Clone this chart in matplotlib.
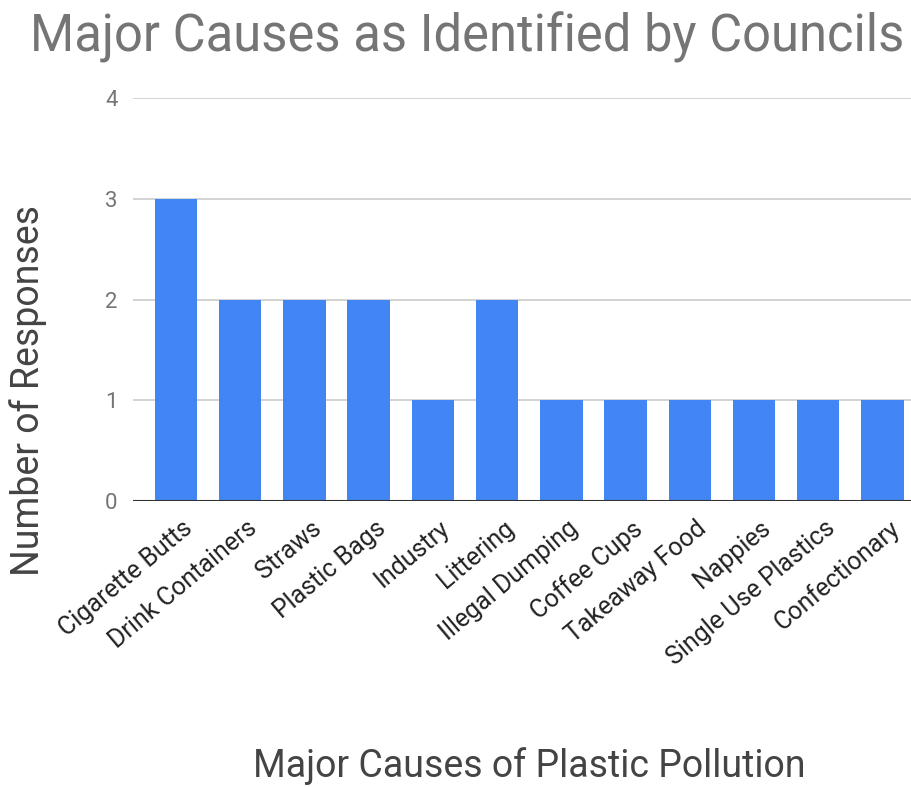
import matplotlib
matplotlib.use("Agg")
import matplotlib.pyplot as plt
from matplotlib.transforms import ScaledTranslation

categories = ["Cigarette Butts", "Drink Containers", "Straws", "Plastic Bags", "Industry",
              "Littering", "Illegal Dumping", "Coffee Cups", "Takeaway Food", "Nappies",
              "Single Use Plastics", "Confectionary"]
responses = [3, 2, 2, 2, 1, 2, 1, 1, 1, 1, 1, 1]
y_ticks = [0, 1, 2, 3, 4]

plt.rcParams['font.family'] = ['Roboto', 'DejaVu Sans']

fig = plt.figure(figsize=(9.12, 7.87), dpi=100)
ax = fig.add_axes([133/912, 1 - 501/787, (912-133)/912, (501-98)/787])

x = list(range(len(categories)))
ax.bar(x, responses, width=0.66, color="#4285F4", zorder=3)

ax.set_ylim(0, 4)
ax.set_xlim(-0.67, 11.46)
ax.set_yticks(y_ticks)
ax.set_yticklabels([str(v) for v in y_ticks], color="#757575", fontsize=16)
ax.yaxis.grid(True, color="#cccccc", linewidth=1.2, zorder=0)
ax.axhline(0, color="#333333", linewidth=1.5, zorder=4)
for s in ax.spines.values():
    s.set_visible(False)
ax.tick_params(axis='y', length=0, pad=11)
ax.tick_params(axis='x', length=0, pad=11)
ax.set_xticks(x)
ax.set_xticklabels(categories, rotation=40, ha='right', rotation_mode='anchor',
                   fontsize=18, color="#222222")
offset = ScaledTranslation(6/100, 0, fig.dpi_scale_trans)
for lbl in ax.get_xticklabels():
    lbl.set_transform(lbl.get_transform() + offset)

fig.text(467/912, 1 - 37/787, "Major Causes as Identified by Councils", ha='center', va='center',
         fontsize=36.5, color="#757575")
fig.text(28/912, 1 - 390/787, "Number of Responses", rotation=90, ha='center', va='center',
         fontsize=27, color="#444444")
fig.text(529/912, 1 - 766/787, "Major Causes of Plastic Pollution", ha='center', va='center',
         fontsize=27, color="#444444")

fig.savefig("out.png", dpi=100)
